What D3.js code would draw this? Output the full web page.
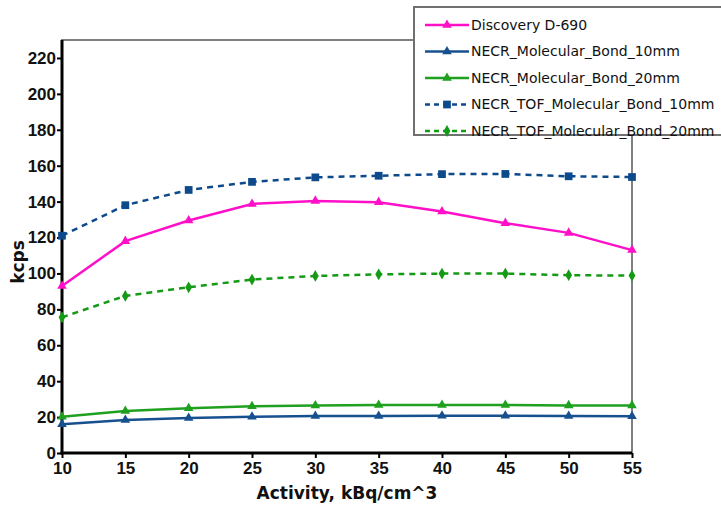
<!DOCTYPE html>
<html>
<head>
<meta charset="utf-8">
<script src="https://cdn.jsdelivr.net/npm/d3@7"></script>
<style>
  body { margin: 0; background: #fff; }
  svg { display: block; font-family: "Comic Sans MS", "DejaVu Sans", sans-serif; }
</style>
</head>
<body>
<div id="container"></div>
<script>
/* DATA */
const activity = [10, 15, 20, 25, 30, 35, 40, 45, 50, 55]
const discovery = [93, 118, 129.5, 138.7, 140.4, 139.7, 134.5, 128, 122.6, 113]
const necr10 = [16, 18.4, 19.5, 20.2, 20.6, 20.6, 20.7, 20.7, 20.6, 20.5]
const necr20 = [20.2, 23.4, 24.9, 26, 26.4, 26.7, 26.7, 26.7, 26.5, 26.5]
const tof10 = [121, 138, 146.5, 151, 153.5, 154.4, 155.3, 155.4, 154.1, 153.7]
const tof20 = [75.6, 87.5, 92.3, 96.6, 98.6, 99.5, 99.9, 99.9, 99, 98.8]
const yTicks = [0, 20, 40, 60, 80, 100, 120, 140, 160, 180, 200, 220]
const seriesNames = ["Discovery D-690", "NECR_Molecular_Bond_10mm", "NECR_Molecular_Bond_20mm",
  "NECR_TOF_Molecular_Bond_10mm", "NECR_TOF_Molecular_Bond_20mm"]

/* CONSTANTS */
const width = 721
const height = 509
const plot = { left: 62, right: 632, top: 40, bottom: 453 }

const series = [
  { name: seriesNames[0], values: discovery, color: "#ff10c8", dash: null, marker: "triangle" },
  { name: seriesNames[1], values: necr10, color: "#17508f", dash: null, marker: "triangle" },
  { name: seriesNames[2], values: necr20, color: "#1fa01f", dash: null, marker: "triangle" },
  { name: seriesNames[3], values: tof10, color: "#0d4a8c", dash: "6,5", marker: "square" },
  { name: seriesNames[4], values: tof20, color: "#149a14", dash: "6,5", marker: "diamond" }
]

const svg = d3.select("#container")
  .append("svg")
  .attr("width", width)
  .attr("height", height)

/* SCALES */
const xScale = d3.scaleLinear()
  .domain([10, 55])
  .range([plot.left, plot.right])

const yScale = d3.scaleLinear()
  .domain([0, 230])
  .range([plot.bottom, plot.top])

// frame: gray top/right
svg.append("rect")
  .attr("x", plot.left)
  .attr("y", plot.top)
  .attr("width", plot.right - plot.left)
  .attr("height", plot.bottom - plot.top)
  .attr("fill", "#fff")
  .attr("stroke", "#808080")
  .attr("stroke-width", 2)

/* AXES */
const yAxis = d3.axisLeft(yScale).tickValues(yTicks).tickSize(5).tickSizeOuter(0)
const yG = svg.append("g")
  .attr("transform", `translate(${plot.left}, 0)`)
  .call(yAxis)

const xAxis = d3.axisBottom(xScale).tickValues(activity).tickSize(5).tickSizeOuter(0)
const xG = svg.append("g")
  .attr("transform", `translate(0, ${plot.bottom})`)
  .call(xAxis)

yG.select(".domain").attr("stroke", "#000").attr("stroke-width", 3)
  .attr("d", `M0,${plot.top}V${plot.bottom + 1.5}`)
xG.select(".domain").attr("stroke", "#000").attr("stroke-width", 3)
  .attr("d", `M${plot.left - 1.5},0H${plot.right}`)
svg.selectAll(".tick line").attr("stroke", "#000").attr("stroke-width", 2)
yG.selectAll(".tick text")
  .attr("font-size", 17).attr("font-family", null).attr("fill", "#111").attr("x", -6)
  .style("font-weight", "bold")
xG.selectAll(".tick text")
  .attr("font-size", 17).attr("font-family", null).attr("fill", "#111").attr("y", 9)
  .style("font-weight", "bold")

/* LINES */
const line = d3.line()
  .x((d, i) => xScale(activity[i]))
  .y(d => yScale(d))

const markerPath = {
  triangle: d3.symbol(d3.symbolTriangle, 40)(),
  square: d3.symbol(d3.symbolSquare, 60)(),
  diamond: d3.symbol(d3.symbolDiamond, 40)()
}

const groups = svg.selectAll(".series")
  .data(series)
  .join("g")
  .attr("class", "series")

groups.append("path")
  .attr("d", d => line(d.values))
  .attr("fill", "none")
  .attr("stroke", d => d.color)
  .attr("stroke-width", 2.5)
  .attr("stroke-dasharray", d => d.dash)

groups.selectAll(".pt")
  .data(d => d.values.map((v, i) => ({ v, i, s: d })))
  .join("path")
  .attr("class", "pt")
  .attr("transform", d => `translate(${xScale(activity[d.i])}, ${yScale(d.v)})`)
  .attr("d", d => markerPath[d.s.marker])
  .attr("fill", d => d.s.color)

/* LEGEND */
const legend = svg.append("g").attr("transform", "translate(414, 7)")
legend.append("rect")
  .attr("width", 330)
  .attr("height", 128)
  .attr("fill", "#fff")
  .attr("stroke", "#707070")
  .attr("stroke-width", 2)

const items = legend.selectAll(".item")
  .data(series)
  .join("g")
  .attr("class", "item")
  .attr("transform", (d, i) => `translate(0, ${18 + i * 26.5})`)

items.append("line")
  .attr("x1", 11).attr("x2", 55)
  .attr("stroke", d => d.color)
  .attr("stroke-width", 2.5)
  .attr("stroke-dasharray", d => d.dash ? "5,4" : null)

items.append("path")
  .attr("transform", "translate(33, 0)")
  .attr("d", d => markerPath[d.marker])
  .attr("fill", d => d.color)

items.append("text")
  .attr("x", 57)
  .attr("dy", "0.35em")
  .attr("font-size", 14)
  .attr("fill", "#111")
  .text(d => d.name)

/* AXIS LABELS */
svg.append("text")
  .attr("text-anchor", "middle")
  .attr("x", (plot.left + plot.right) / 2)
  .attr("y", 499)
  .attr("font-size", 17)
  .style("font-weight", "bold")
  .attr("fill", "#111")
  .text("Activity, kBq/cm^3")

svg.append("text")
  .attr("text-anchor", "middle")
  .attr("transform", "rotate(-90)")
  .attr("x", -262)
  .attr("y", 24)
  .attr("font-size", 17)
  .style("font-weight", "bold")
  .attr("fill", "#111")
  .text("kcps")
</script>
</body>
</html>
